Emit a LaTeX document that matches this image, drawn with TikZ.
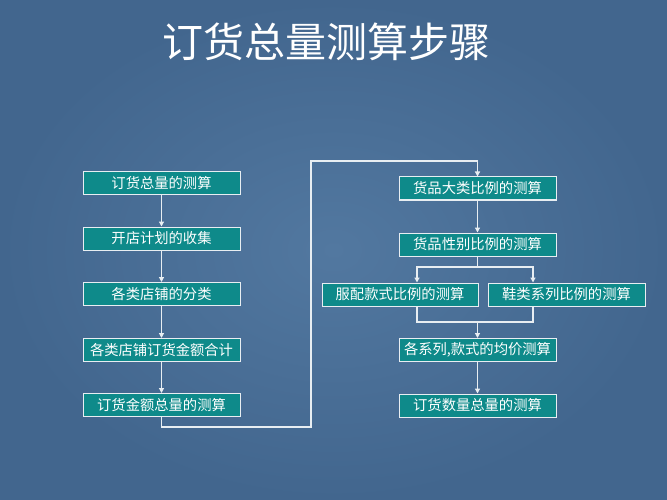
\documentclass[tikz,border=0pt]{standalone}
\usepackage{fontspec}
\newfontfamily\cjk{Noto Sans CJK SC}
\usetikzlibrary{arrows.meta}
\definecolor{bgin}{HTML}{5278A0}
\definecolor{bgout}{HTML}{42668E}
\definecolor{boxfill}{HTML}{0E8A8A}
\definecolor{linec}{HTML}{E8EEF2}
\tikzset{
  stepbox/.style={draw=linec, line width=1pt, fill=boxfill, minimum height=23pt,
    minimum width=157pt, inner sep=0pt, text=white, font=\cjk\fontsize{14.3}{15}\selectfont},
  conn/.style={draw=linec, line width=1.3pt},
  arr/.style={conn, -{Triangle[width=5pt,length=5pt]}}
}
\begin{document}
\begin{tikzpicture}[x=1pt,y=-1pt]
\useasboundingbox (0,0) rectangle (667,500);
\shade[inner color=bgin, outer color=bgout] (0,0) rectangle (667,500);
% title
\node[text=white, font=\cjk\fontsize{41}{44}\selectfont] (tit) at (326,42) {订货总量测算步骤};
% left column
\node[stepbox] (l1) at (161.5,183) {订货总量的测算};
\node[stepbox] (l2) at (161.5,238.5) {开店计划的收集};
\node[stepbox] (l3) at (161.5,294) {各类店铺的分类};
\node[stepbox] (l4) at (161.5,350) {各类店铺订货金额合计};
\node[stepbox] (l5) at (161.5,405) {订货金额总量的测算};
% right column
\node[stepbox] (r1) at (477.5,188.5) {货品大类比例的测算};
\node[stepbox] (r2) at (477.5,244.5) {货品性别比例的测算};
\node[stepbox, minimum width=156pt] (fz) at (400,294.5) {服配款式比例的测算};
\node[stepbox] (xl) at (566.5,294.5) {鞋类系列比例的测算};
\node[stepbox] (jj) at (477.5,350) {各系列,款式的均价测算};
\node[stepbox] (r6) at (477.5,405.5) {订货数量总量的测算};
% left arrows
\draw[arr] (l1) -- (l2);
\draw[arr] (l2) -- (l3);
\draw[arr] (l3) -- (l4);
\draw[arr] (l4) -- (l5);
% long connector
\coordinate (c1) at (311,427);
\coordinate (c2) at (311,161);
\draw[arr] (l5.south) -- (l5.south |- c1) -- (c1) -- (c2) -- (c2 -| r1.north) -- (r1.north);
\draw[arr] (r1) -- (r2);
% split
\coordinate (jl) at (417,267);
\coordinate (jr) at (533,267);
\draw[conn] (r2.south) -- (r2.south |- jl);
\draw[arr] (jr) -- (jl) -- (jl |- fz.north);
\draw[arr] (jl) -- (jr) -- (jr |- xl.north);
% merge
\coordinate (ml) at (417,322);
\coordinate (mr) at (533,322);
\draw[conn] (ml |- fz.south) -- (ml) -- (mr) -- (mr |- xl.south);
\draw[arr] (jj.north |- ml) -- (jj.north);
\draw[arr] (jj) -- (r6);
\end{tikzpicture}
\end{document}
